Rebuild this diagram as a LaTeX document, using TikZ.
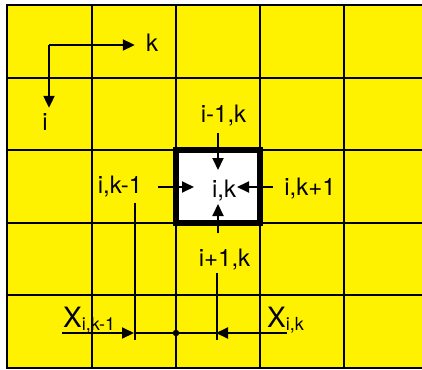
\documentclass[tikz,border=0pt]{standalone}
\usepackage{fontspec}
\setmainfont{TeX Gyre Heros}
\usetikzlibrary{arrows.meta}

\begin{document}
\begin{tikzpicture}[x=1pt, y=-1pt, grid/.style={line width=2.4pt}, flow/.style={-{Triangle[length=12pt,width=11pt]}, line width=2pt}, guide/.style={line width=1.4pt}, lab/.style={font=\fontsize{24}{24}\selectfont, inner sep=0pt, anchor=base}, xlab/.style={font=\fontsize{28}{28}\selectfont, inner sep=0pt, anchor=base west}]
\useasboundingbox (0,0) rectangle (422,369);
\fill[yellow] (7,5) rectangle (430,368);
\foreach \x in {92,176,260,344} \draw[grid] (\x,5)--(\x,368);
\foreach \y in {78,150,223,295} \draw[grid] (7,\y)--(430,\y);
\draw[line width=2.8pt] (430,5)--(7,5)--(7,368)--(430,368);
\node[draw, line width=6.5pt, fill=white, minimum width=84pt, minimum height=73pt, inner sep=0pt] (cell) at (218,186.5) {};
% axes
\node[lab] (axK) at (152,52) {k};
\node[lab] (axI) at (45,130) {i};
\coordinate (corner) at (49,45);
\draw[flow, shorten >=11pt] (corner) -- (axK.west |- corner);
\draw[flow, shorten >=5pt] (corner) -- (corner |- axI.north);
% neighbours
\node[lab] (centre) at (224,197) {i,k};
\node[lab] (up) at (223.5,122) {i-1,k};
\node[lab] (down) at (224.5,266) {i+1,k};
\node[lab] (left) at (120,193) {i,k-1};
\node[lab] (right) at (310,195) {i,k+1};
\coordinate (tipN) at (218,170); \coordinate (tipS) at (218,204);
\coordinate (tipW) at (194,187); \coordinate (tipE) at (237,187);
\draw[flow, shorten <=7.5pt] (up.south -| tipN) -- (tipN);
\draw[flow, shorten <=15pt] (down.north -| tipS) -- (tipS);
\draw[flow, shorten <=16pt] (left.east |- tipW) -- (tipW);
\draw[flow, shorten <=11pt] (right.west |- tipE) -- (tipE);
% faces
\coordinate (footW) at (135,340); \coordinate (footE) at (217,340);
\draw[guide, shorten <=6pt] (left.south -| footW) -- (footW);
\draw[guide, shorten <=3pt] (down.south -| footE) -- (footE);
\node[circle, fill, inner sep=0pt, minimum size=6.5pt] (dot) at (176,333) {};
\coordinate (startW) at (62,333); \coordinate (startE) at (287,333);
\draw[line width=1.2pt] (dot -| footW) -- (dot -| footE);
\draw[flow, shorten >=1pt] (startW) -- (dot -| footW);
\draw[flow, shorten >=-1pt] (startE) -- (dot -| footE);
\node[xlab] (xW) at (63,327) {X\raisebox{-3pt}{\fontsize{18}{18}\selectfont i,k-1}};
\node[xlab] (xE) at (267,327) {X\raisebox{-3pt}{\fontsize{18}{18}\selectfont i,k}};
\end{tikzpicture}
\end{document}
